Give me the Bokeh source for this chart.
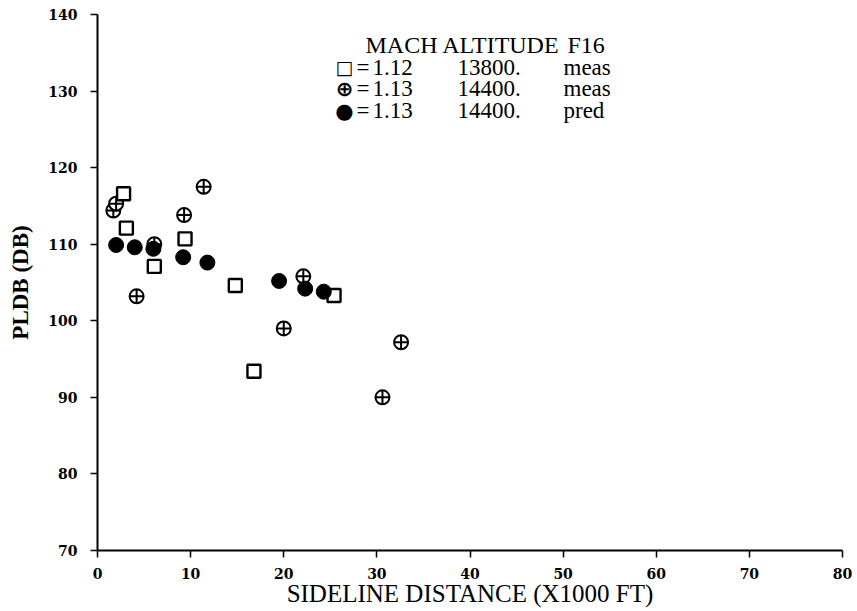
from bokeh.plotting import figure
from bokeh.models import Range1d, FixedTicker
from bokeh.core.properties import value
from bokeh.embed import file_html
from bokeh.resources import INLINE

# ---- data ----
# MACH 1.12, ALT 13800, measured (open squares)
sq_x = [2.8, 3.1, 6.1, 9.4, 14.8, 16.8, 25.4]
sq_y = [116.6, 112.1, 107.1, 110.7, 104.6, 93.4, 103.3]
# MACH 1.13, ALT 14400, measured (crossed circles)
cc_x = [1.7, 2.0, 4.2, 6.1, 9.3, 11.4, 20.0, 22.1, 30.6, 32.6]
cc_y = [114.4, 115.3, 103.2, 110.0, 113.8, 117.5, 99.0, 105.8, 90.0, 97.2]
# MACH 1.13, ALT 14400, predicted (filled circles)
fc_x = [2.0, 4.0, 6.0, 9.2, 11.8, 19.5, 22.3, 24.3]
fc_y = [109.9, 109.6, 109.4, 108.3, 107.6, 105.2, 104.2, 103.8]

x_ticks = [0, 10, 20, 30, 40, 50, 60, 70, 80]
y_ticks = [70, 80, 90, 100, 110, 120, 130, 140]

legend_title = ["MACH ALTITUDE", "F16"]
legend_symbols = ["\u25a1", "\u2295", "\u25cf"]
legend_mach = ["1.12", "1.13", "1.13"]
legend_alt = ["13800.", "14400.", "14400."]
legend_src = ["meas", "meas", "pred"]

# ---- layout ----
W, H = 857, 611
BL, BR, BT, BB = 97, 15, 14, 61
FW, FH = W - BL - BR, H - BT - BB
X0, X1, Y0, Y1 = 0, 80, 70, 140

def sx(px):
    return X0 + (px - BL) * (X1 - X0) / FW

def sy(py):
    return Y1 - (py - BT) * (Y1 - Y0) / FH

p = figure(width=W, height=H, x_range=Range1d(X0, X1), y_range=Range1d(Y0, Y1),
           output_backend="svg", toolbar_location=None,
           min_border_left=BL, min_border_right=BR, min_border_top=BT, min_border_bottom=BB)
p.grid.visible = False
p.outline_line_color = None
p.background_fill_color = "white"
p.border_fill_color = "white"

p.xaxis.ticker = FixedTicker(ticks=x_ticks)
p.yaxis.ticker = FixedTicker(ticks=y_ticks)
for ax in (p.xaxis[0], p.yaxis[0]):
    ax.axis_line_width = 2
    ax.axis_line_color = "black"
    ax.major_tick_line_width = 1.5
    ax.major_tick_line_color = "black"
    ax.major_tick_out = 7
    ax.major_tick_in = 0
    ax.minor_tick_line_color = None
    ax.major_label_text_font = "DejaVu Serif"
    ax.major_label_text_font_style = "bold"
    ax.major_label_text_font_size = "14px"
    ax.major_label_text_color = "black"
    ax.axis_label_text_color = "black"

p.yaxis.major_label_standoff = 13
p.yaxis.axis_label = "PLDB (DB)"
p.yaxis.axis_label_text_font = "Liberation Serif"
p.yaxis.axis_label_text_font_style = "bold"
p.yaxis.axis_label_text_font_size = "23px"
p.yaxis.axis_label_standoff = 12

p.xaxis.major_label_standoff = 10
p.xaxis.axis_label = "SIDELINE DISTANCE (X1000 FT)"
p.xaxis.axis_label_text_font = "Liberation Serif"
p.xaxis.axis_label_text_font_style = "normal"
p.xaxis.axis_label_text_font_size = "25px"
p.xaxis.axis_label_standoff = -2

# ---- data marks ----
p.scatter(cc_x, cc_y, marker="circle_cross", size=14, fill_color="white",
          line_color="black", line_width=2)
p.scatter(sq_x, sq_y, marker="square", size=13, fill_color="white",
          line_color="black", line_width=2.4)
p.scatter(fc_x, fc_y, marker="circle", size=15, fill_color="black",
          line_color="black")

# ---- legend as text ----
row_py = [66.7, 88.3, 110.0]
rows_y = [sy(v) for v in row_py]
serif = value("Liberation Serif")

p.text(x=[sx(365), sx(567)], y=[sy(44), sy(44)], text=legend_title,
       text_font=serif, text_font_size="24px", text_align="left",
       text_baseline="middle", text_color="black")
p.text(x=[sx(344)] * 3, y=rows_y, text=legend_symbols,
       text_font=value("DejaVu Sans"), text_font_size=["19px", "21px", "21px"],
       text_align="center", text_baseline="middle", text_color="black",
       text_font_style="bold")
p.text(x=[sx(356)] * 3, y=rows_y, text=["="] * 3,
       text_font=serif, text_font_size="23px", text_align="left",
       text_baseline="middle", text_color="black")
p.text(x=[sx(372)] * 3, y=rows_y, text=legend_mach,
       text_font=serif, text_font_size="23px", text_align="left",
       text_baseline="middle", text_color="black")
p.text(x=[sx(457)] * 3, y=rows_y, text=legend_alt,
       text_font=serif, text_font_size="23px", text_align="left",
       text_baseline="middle", text_color="black")
p.text(x=[sx(563)] * 3, y=rows_y, text=legend_src,
       text_font=serif, text_font_size="23px", text_align="left",
       text_baseline="middle", text_color="black")

open("out.html", "w").write(file_html(p, INLINE))
